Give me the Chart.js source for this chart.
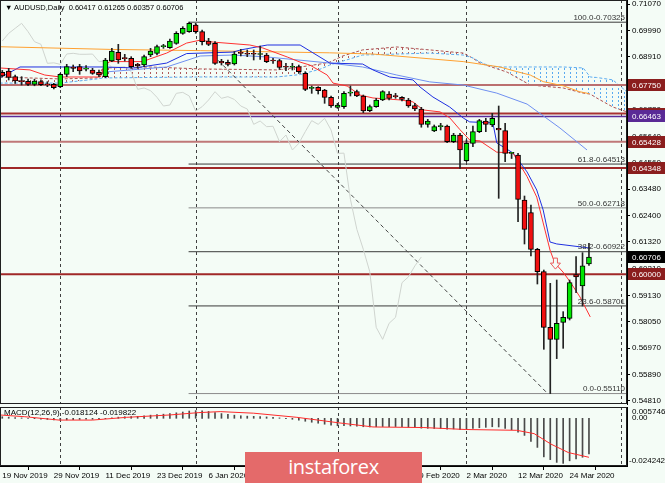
<!DOCTYPE html>
<html>
<head>
<meta charset="utf-8">
<title>AUDUSD Daily</title>
<script src="https://cdn.jsdelivr.net/npm/chart.js@4.4.1/dist/chart.umd.min.js"></script>
<style>
  html, body { margin: 0; padding: 0; background: #f4fcf6; }
  #wrap { position: relative; width: 665px; height: 483px; overflow: hidden; background: #f4fcf6; font-family: "Liberation Sans", Arial, sans-serif; }
  #main { position: absolute; left: 0; top: 0; }
  #macd { position: absolute; left: 0; top: 405px; }
  #title { position: absolute; left: 5px; top: 3px; font-size: 7.5px; line-height: 9px; color: #000; white-space: pre; }
  #mark { position: absolute; left: 245px; top: 452px; width: 177px; height: 34px; background: #e46a6a; color: #fff; font-family: "Open Sans", sans-serif; font-size: 20px; letter-spacing: -0.3px; text-align: center; line-height: 30px; }
</style>
</head>
<body>
<div id="wrap">
  <canvas id="main" width="665" height="405"></canvas>
  <canvas id="macd" width="665" height="78"></canvas>
  <div id="title"></div>
  <div id="mark">instaforex</div>
</div>
<script>
const FONT = '"Liberation Sans", Arial, sans-serif';

// one label every 8 daily bars, bar 0 = 19 Nov 2019
const dateLabels = ["19 Nov 2019", "29 Nov 2019", "11 Dec 2019", "23 Dec 2019", "6 Jan 2020", "16 Jan 2020",
  "28 Jan 2020", "7 Feb 2020", "19 Feb 2020", "2 Mar 2020", "12 Mar 2020", "24 Mar 2020"];
const labelStep = 8;

const opens = [0.68270, 0.68325, 0.68093, 0.67900, 0.67900, 0.67779, 0.67888, 0.67770, 0.67779, 0.67684,
  0.68189, 0.68480, 0.68503, 0.68400, 0.68366, 0.68270, 0.68093, 0.68735, 0.69090, 0.68844,
  0.68844, 0.68598, 0.68571, 0.68981, 0.69049, 0.69322, 0.69281, 0.69459, 0.69868, 0.69937,
  0.70210, 0.69937, 0.69554, 0.69459, 0.68720, 0.68680, 0.68612, 0.69077, 0.69050, 0.69040,
  0.69000, 0.68981, 0.68776, 0.68749, 0.68503, 0.68480, 0.68503, 0.68230, 0.67615, 0.67656,
  0.67547, 0.67247, 0.66837, 0.66864, 0.67420, 0.67478, 0.67301, 0.66700, 0.66864, 0.67137,
  0.67383, 0.67280, 0.67250, 0.67137, 0.66905, 0.66768, 0.66140, 0.65867, 0.66045, 0.66072,
  0.65430, 0.65703, 0.64652, 0.65362, 0.65840, 0.66277, 0.66113, 0.65977, 0.65881, 0.64952,
  0.64884, 0.63041, 0.62522, 0.61020, 0.60104, 0.57824, 0.57332, 0.58029, 0.58193, 0.59986,
  0.59521, 0.60417];
const highs = [0.68350, 0.68434, 0.68161, 0.68093, 0.67990, 0.67990, 0.67960, 0.67888, 0.67820, 0.68230,
  0.68598, 0.68571, 0.68598, 0.68544, 0.68434, 0.68366, 0.68844, 0.69254, 0.69418, 0.69008,
  0.68912, 0.68639, 0.68981, 0.69254, 0.69390, 0.69418, 0.69636, 0.69937, 0.70141, 0.70325,
  0.70278, 0.70000, 0.69663, 0.69527, 0.68803, 0.68776, 0.69117, 0.69213, 0.69186, 0.69186,
  0.69349, 0.69049, 0.68844, 0.68803, 0.68639, 0.68639, 0.68571, 0.68298, 0.67711, 0.67684,
  0.67574, 0.67301, 0.67001, 0.67478, 0.67711, 0.67547, 0.67342, 0.66932, 0.67206, 0.67520,
  0.67478, 0.67410, 0.67280, 0.67206, 0.67000, 0.66837, 0.66345, 0.66113, 0.66181, 0.66113,
  0.65772, 0.65772, 0.65498, 0.66072, 0.66345, 0.66386, 0.66591, 0.66891, 0.66181, 0.64980,
  0.64952, 0.63204, 0.62835, 0.61060, 0.60172, 0.59626, 0.59763, 0.58466, 0.59763, 0.60719,
  0.60883, 0.61265];
const lows = [0.68080, 0.67957, 0.67820, 0.67752, 0.67720, 0.67720, 0.67720, 0.67684, 0.67588, 0.67643,
  0.68093, 0.68298, 0.68189, 0.68325, 0.68189, 0.68093, 0.68052, 0.68708, 0.68639, 0.68735,
  0.68434, 0.68434, 0.68503, 0.68912, 0.68981, 0.69254, 0.69254, 0.69418, 0.69828, 0.69910,
  0.69868, 0.69390, 0.69363, 0.68598, 0.68571, 0.68530, 0.68571, 0.68940, 0.68913, 0.68776,
  0.68803, 0.68667, 0.68639, 0.68394, 0.68339, 0.68366, 0.68230, 0.67520, 0.67410, 0.67383,
  0.67001, 0.66837, 0.66796, 0.66796, 0.67301, 0.67274, 0.66618, 0.66659, 0.66837, 0.67110,
  0.67137, 0.67206, 0.67100, 0.66837, 0.66700, 0.66022, 0.66022, 0.65840, 0.65908, 0.65389,
  0.65389, 0.64338, 0.64611, 0.65225, 0.65799, 0.65840, 0.66045, 0.63109, 0.64611, 0.64740,
  0.62153, 0.61238, 0.60746, 0.59599, 0.56924, 0.55110, 0.56542, 0.56964, 0.58125, 0.59244,
  0.58698, 0.60357];
const closes = [0.68120, 0.68066, 0.67916, 0.67888, 0.67780, 0.67916, 0.67770, 0.67760, 0.67643, 0.68189,
  0.68503, 0.68434, 0.68325, 0.68420, 0.68230, 0.68161, 0.68776, 0.69145, 0.68776, 0.68830,
  0.68503, 0.68544, 0.68912, 0.69145, 0.69322, 0.69340, 0.69554, 0.69868, 0.70073, 0.70278,
  0.69937, 0.69527, 0.69418, 0.68639, 0.68660, 0.68598, 0.69022, 0.69050, 0.69010, 0.69010,
  0.69020, 0.68708, 0.68735, 0.68476, 0.68480, 0.68500, 0.68298, 0.67574, 0.67630, 0.67520,
  0.67247, 0.66891, 0.66932, 0.67410, 0.67450, 0.67301, 0.66687, 0.66864, 0.67137, 0.67478,
  0.67206, 0.67274, 0.67160, 0.66891, 0.66768, 0.66140, 0.66277, 0.66045, 0.66060, 0.65430,
  0.65703, 0.65089, 0.65362, 0.65840, 0.66291, 0.66140, 0.66386, 0.65908, 0.64952, 0.64960,
  0.63068, 0.61839, 0.61020, 0.60104, 0.57824, 0.57332, 0.57988, 0.58234, 0.59653, 0.59890,
  0.60341, 0.60706];

// indicator lines, as [bar index, price]
const tenkan = [[-0.4, 0.6845], [4.3, 0.6837], [6.6, 0.6816], [9, 0.6808], [15.2, 0.6808], [15.9, 0.6857],
  [16.7, 0.6871], [21.8, 0.6871], [22.9, 0.6882], [25.5, 0.6906], [28.6, 0.6947], [30.7, 0.6959],
  [32.7, 0.6951], [38.4, 0.6939], [40.4, 0.6927], [44.2, 0.6890], [46.2, 0.6869], [47.7, 0.6857],
  [50.4, 0.6816], [51.3, 0.6783], [53.5, 0.6771], [55.5, 0.6734], [57.5, 0.6722], [61.7, 0.6714],
  [63.7, 0.6706], [65.3, 0.6673], [67.9, 0.6665], [69.4, 0.6641], [71, 0.6592], [72.5, 0.6550],
  [74.1, 0.6546], [76.7, 0.6500], [79.2, 0.6497], [81.4, 0.6400], [82.9, 0.6316], [83.9, 0.6210],
  [84.96, 0.6099], [85.7, 0.6046], [86.97, 0.6009], [88.1, 0.5968], [89.6, 0.5907], [91.2, 0.5825]];
const kijun = [[-0.4, 0.6804], [2.75, 0.6849], [15.6, 0.6849], [20.6, 0.6845], [25.5, 0.6865], [28.6, 0.6904],
  [35.8, 0.6910], [37, 0.6919], [41.1, 0.6939], [46.2, 0.6939], [50.8, 0.6865], [55.9, 0.6861],
  [57.5, 0.6837], [60.1, 0.6808], [63.7, 0.6796], [64.8, 0.6767], [66.8, 0.6726], [69.4, 0.6685],
  [71.5, 0.6640], [72.5, 0.6624], [76.1, 0.6620], [76.7, 0.6538], [79.2, 0.6497], [81.4, 0.6419],
  [82.9, 0.6345], [83.9, 0.6263], [84.96, 0.6132], [86, 0.6124], [91.2, 0.6107]];
const slowBlue = [[16.2, 0.6829], [25.5, 0.6849], [30.7, 0.6894], [35.8, 0.6898], [41.1, 0.6890],
  [50.8, 0.6865], [55.9, 0.6849], [61.2, 0.6816], [66.3, 0.6788], [71.5, 0.6775], [76.7, 0.6742],
  [81.4, 0.6697], [86.5, 0.6599], [90.7, 0.6509]];
const orangeMa = [[-0.4, 0.6932], [16.7, 0.6921], [30.7, 0.6916], [50.8, 0.6907], [57.5, 0.6902],
  [71.5, 0.6871], [77.2, 0.6849], [79.8, 0.6830], [81.9, 0.6816], [83.9, 0.6789], [87, 0.6772],
  [89.5, 0.6748], [91, 0.6740]];
// cloud spans share the same bar positions
const cloudX = [-0.4, 9, 14.7, 15.6, 22.9, 30.7, 42.6, 46.2, 49.3, 50.8, 52.8, 55.9, 61.2, 66.3, 71.5,
  73, 74.1, 75.2, 76.7, 78.3, 81.9, 87, 90.1, 91.2, 92.2, 94.7, 96.9];
const spanA = [0.6783, 0.6783, 0.6800, 0.6804, 0.6806, 0.6808, 0.6808, 0.6818, 0.6840, 0.6857, 0.6873,
  0.6898, 0.6902, 0.6906, 0.6898, 0.6886, 0.6870, 0.6857, 0.6849, 0.6849, 0.6849, 0.6849, 0.6845,
  0.6808, 0.6806, 0.6796, 0.6747];
const spanB = [0.6808, 0.6800, 0.6804, 0.6845, 0.6849, 0.6841, 0.6837, 0.6849, 0.6861, 0.6869, 0.6894,
  0.6919, 0.6931, 0.6919, 0.6906, 0.6885, 0.6865, 0.6855, 0.6842, 0.6828, 0.6775, 0.6763, 0.6742,
  0.6738, 0.6722, 0.6685, 0.6665];
const chikouShift = 26; // lagging span = close plotted 26 bars back
const trendLine = [[33.5, 0.6876], [84.6, 0.5511]];

const fibStart = 28.9;
const fibNames = ["100.0", "61.8", "50.0", "38.2", "23.6", "0.0"];
const fibValues = [0.70325, 0.64513, 0.62718, 0.60922, 0.58701, 0.55110];
const redLevels = [0.67750, 0.66580, 0.65428, 0.64348, 0.60000];
const purpleLevel = 0.66463;
const separators = [9, 30, 52, 72, 96];
const arrowMark = [85.8, 0.6066];

const priceTicks = [0.71070, 0.69990, 0.68910, 0.67830, 0.66720, 0.65640, 0.64560, 0.63480, 0.62400,
  0.61320, 0.60210, 0.59130, 0.58050, 0.56970, 0.55890, 0.54810];

const macdHist = [0.0008, 0.0006, 0.0004, 0.0002, 0.0000, -0.0002, -0.0004, -0.0006, -0.0008,
  -0.0009, -0.0008, -0.0007, -0.0006, -0.0005, -0.0005, -0.0005, -0.0002,
  0.0003, 0.0006, 0.0008, 0.0009, 0.0010, 0.0013, 0.0016, 0.0019, 0.0021, 0.0024, 0.0028, 0.0032, 0.0037,
  0.0039, 0.0038, 0.0035, 0.0029, 0.0024, 0.0020, 0.0016, 0.0013, 0.0011, 0.0010, 0.0009, 0.0007, 0.0005, 0.0002,
  -0.0002, -0.0005, -0.0009, -0.0015, -0.0020, -0.0025, -0.0030, -0.0035, -0.0038, -0.0038, -0.0039,
  -0.0040, -0.0043, -0.0044, -0.0043, -0.0042, -0.0042, -0.0042, -0.0043, -0.0045, -0.0046, -0.0050,
  -0.0051, -0.0052, -0.0052, -0.0055, -0.0054, -0.0058, -0.0056, -0.0052, -0.0048, -0.0046, -0.0043,
  -0.0044, -0.0052, -0.0058, -0.0070, -0.0087, -0.0118, -0.0148, -0.0196, -0.0210, -0.0224, -0.0229,
  -0.0216, -0.0206, -0.0198, -0.018124];
const macdSignal = [[-0.4, 0.0017], [3.5, 0.0008], [8.8, -0.0009], [14, -0.0009], [19.3, 0.0005],
  [26, 0.0017], [30.5, 0.0029], [33.8, 0.0034], [39, 0.0026], [45.7, 0.0005], [52.2, -0.0023],
  [57.5, -0.0044], [65.4, -0.0047], [71.9, -0.0057], [79.8, -0.0061], [82.5, -0.0078], [85.1, -0.0131],
  [87.8, -0.0174], [91, -0.019822]];
const macdMax = 0.005746, macdMin = -0.024242;

const X_MIN = -0.35, X_MAX = 96.9;
const Y_MIN = 0.54683, Y_MAX = 0.71234;

const last = closes.length - 1;
document.getElementById('title').textContent = '\u25BC AUDUSD,Daily  ' +
  [opens[last], highs[last], lows[last], closes[last]].map(v => v.toFixed(5)).join(' ');

const pts = arr => arr.map(([x, y]) => ({ x, y }));
const flat = (x0, x1, v) => [{ x: x0, y: v }, { x: x1, y: v }];

function hatch(color) {
  const c = document.createElement('canvas');
  c.width = 6; c.height = 4;
  const g = c.getContext('2d');
  g.fillStyle = color;
  g.fillRect(0, 0, 1, 2);
  return g.createPattern(c, 'repeat');
}

function lineSet(data, color, order, extra) {
  return Object.assign({ type: 'line', data, borderColor: color, borderWidth: 1, pointRadius: 0,
    fill: false, tension: 0, order }, extra || {});
}

const datasets = [];
datasets.push({
  type: 'bar', order: 0,
  data: opens.map((o, i) => ({ x: i, y: [o, closes[i]] })),
  backgroundColor: ctx => closes[ctx.dataIndex] >= opens[ctx.dataIndex] ? '#00e600' : '#f01010',
  borderColor: '#000', borderWidth: 1, borderSkipped: false, barThickness: 5, minBarLength: 1
});
datasets.push({
  type: 'bar', order: 1,
  data: lows.map((l, i) => ({ x: i, y: [l, highs[i]] })),
  backgroundColor: '#222', barThickness: 1
});
datasets.push(lineSet(pts(tenkan), '#ff3030', 2));
datasets.push(lineSet(pts(kijun), '#1f2fe0', 3));
datasets.push(lineSet(pts(slowBlue), '#6f8ff0', 4));
datasets.push(lineSet(pts(orangeMa), '#ffa030', 5));
datasets.push(lineSet(closes.slice(chikouShift).map((c, k) => ({ x: k, y: c })), '#cfd4cf', 6));
datasets.push(lineSet(pts(trendLine), '#444', 7, { borderDash: [4, 3] }));
fibValues.forEach((v, k) => {
  const c = (k === 2 || k === 5) ? '#8a8a8a' : '#3a3a3a';
  datasets.push(lineSet(flat(fibStart, X_MAX, v), c, 8));
});
const redColors = ['#bb6f6f', '#a83232', '#c07878', '#a02828', '#a02828'];
redLevels.forEach((v, k) => datasets.push(lineSet(flat(X_MIN, X_MAX, v), redColors[k], 9, { borderWidth: 2 })));
datasets.push(lineSet(flat(X_MIN, X_MAX, purpleLevel), '#5b2c9a', 9, { borderWidth: 1.5 }));
datasets.push(lineSet(cloudX.map((x, k) => ({ x, y: spanA[k] })), '#5aaaf0', 10, {
  borderDash: [3, 2], fill: { target: '+1', above: hatch('#5aaaf0'), below: hatch('#b05a5a') }
}));
datasets.push(lineSet(cloudX.map((x, k) => ({ x, y: spanB[k] })), '#b05050', 11, { borderDash: [3, 2] }));

function drawSeparators(chart) {
  const { ctx, chartArea: a, scales: { x } } = chart;
  ctx.save();
  ctx.strokeStyle = '#404040';
  ctx.lineWidth = 1;
  ctx.setLineDash([3, 3]);
  separators.forEach(i => {
    const px = Math.round(x.getPixelForValue(i)) + 0.5;
    ctx.beginPath(); ctx.moveTo(px, a.top); ctx.lineTo(px, a.bottom); ctx.stroke();
  });
  ctx.restore();
}

function drawFrame(chart) {
  const { ctx, chartArea: a } = chart;
  ctx.save();
  ctx.strokeStyle = '#202020';
  ctx.lineWidth = 1;
  ctx.strokeRect(a.left + 0.5, a.top + 0.5, a.right - a.left - 1, a.bottom - a.top - 1);
  ctx.restore();
}

const mainOverlay = {
  id: 'mainOverlay',
  beforeDatasetsDraw(chart) { drawSeparators(chart); },
  afterDatasetsDraw(chart) {
    const { ctx, chartArea: a, scales: { x, y } } = chart;
    drawFrame(chart);
    ctx.save();
    ctx.font = '8px ' + FONT;
    ctx.fillStyle = '#333';
    ctx.textAlign = 'right';
    ctx.textBaseline = 'bottom';
    fibValues.forEach((v, k) => {
      ctx.fillText(fibNames[k] + '-' + v.toFixed(5), a.right - 2, y.getPixelForValue(v) - 0.5);
    });
    // hollow down arrow object
    const ax = x.getPixelForValue(arrowMark[0]);
    const ay = y.getPixelForValue(arrowMark[1]);
    ctx.beginPath();
    ctx.moveTo(ax - 2, ay); ctx.lineTo(ax + 2, ay); ctx.lineTo(ax + 2, ay + 5);
    ctx.lineTo(ax + 5, ay + 5); ctx.lineTo(ax, ay + 11); ctx.lineTo(ax - 5, ay + 5);
    ctx.lineTo(ax - 2, ay + 5); ctx.closePath();
    ctx.fillStyle = '#f4fcf6';
    ctx.fill();
    ctx.strokeStyle = '#e85a5a';
    ctx.lineWidth = 1;
    ctx.stroke();
    ctx.restore();
  },
  afterDraw(chart) {
    const { ctx, chartArea: a, scales: { y } } = chart;
    const box = (v, bg) => {
      const py = Math.round(y.getPixelForValue(v));
      ctx.fillStyle = bg;
      ctx.fillRect(a.right + 1, py - 6, 665 - a.right - 1, 12);
      ctx.fillStyle = '#fff';
      ctx.fillText(v.toFixed(5), a.right + 5, py + 0.5);
    };
    ctx.save();
    ctx.font = '8px ' + FONT;
    ctx.textAlign = 'left';
    ctx.textBaseline = 'middle';
    redLevels.forEach(v => box(v, '#8b1e1e'));
    box(purpleLevel, '#5a2a96');
    box(closes[last], '#000');
    ctx.restore();
  }
};

new Chart(document.getElementById('main'), {
  type: 'bar',
  data: { datasets },
  options: {
    responsive: false,
    animation: false,
    events: [],
    layout: { padding: { left: 0, right: 0, top: 0, bottom: 1 } },
    plugins: { legend: { display: false }, tooltip: { enabled: false } },
    datasets: { bar: { grouped: false } },
    scales: {
      x: { type: 'linear', min: X_MIN, max: X_MAX, offset: false, display: false },
      y: {
        position: 'right', min: Y_MIN, max: Y_MAX,
        afterBuildTicks: s => { s.ticks = priceTicks.map(v => ({ value: v })); },
        afterFit: s => { s.width = 38; s.paddingTop = 0; s.paddingBottom = 0; },
        ticks: { callback: v => v.toFixed(5), font: { size: 8, family: FONT }, color: '#000', padding: 2, autoSkip: false },
        grid: { drawOnChartArea: false, drawTicks: true, tickLength: 3, color: '#000' },
        border: { color: '#000' }
      }
    }
  },
  plugins: [mainOverlay]
});

const macdOverlay = {
  id: 'macdOverlay',
  beforeDatasetsDraw(chart) { drawSeparators(chart); },
  afterDatasetsDraw(chart) { drawFrame(chart); },
  afterDraw(chart) {
    const { ctx, chartArea: a, scales: { y } } = chart;
    ctx.save();
    ctx.font = '8px ' + FONT;
    ctx.fillStyle = '#000';
    ctx.textBaseline = 'middle';
    ctx.textAlign = 'left';
    ctx.fillText('MACD(12,26,9) ' + macdHist[last].toFixed(6) + ' ' +
      macdSignal[macdSignal.length - 1][1].toFixed(6), a.left + 4, a.top + 6);
    ctx.fillText(macdMax.toFixed(6), a.right + 5, a.top + 5);
    ctx.fillText('0.00', a.right + 5, y.getPixelForValue(0) - 1);
    ctx.fillText(macdMin.toFixed(6), a.right + 2, a.bottom - 5);
    ctx.restore();
  }
};

new Chart(document.getElementById('macd'), {
  type: 'bar',
  data: {
    datasets: [
      lineSet(pts(macdSignal), '#ff2a2a', 0),
      { type: 'bar', order: 1, data: macdHist.map((v, i) => ({ x: i, y: v })), backgroundColor: '#4a4a4a', barThickness: 1 }
    ]
  },
  options: {
    responsive: false,
    animation: false,
    events: [],
    layout: { padding: { left: 0, right: 0, top: 2, bottom: 0 } },
    plugins: { legend: { display: false }, tooltip: { enabled: false } },
    scales: {
      x: {
        type: 'linear', min: X_MIN, max: X_MAX, offset: false,
        afterBuildTicks: s => { s.ticks = dateLabels.map((d, k) => ({ value: k * labelStep })); },
        afterFit: s => { s.height = 17; s.paddingLeft = 0; s.paddingRight = 0; },
        ticks: { autoSkip: false, maxRotation: 0, minRotation: 0, align: 'start', padding: 1,
          font: { size: 8, family: FONT }, color: '#000', callback: (v, i) => dateLabels[i] },
        grid: { drawOnChartArea: false, drawTicks: true, tickLength: 4, color: '#000' },
        border: { color: '#000' }
      },
      y: {
        position: 'right', min: macdMin, max: macdMax,
        afterFit: s => { s.width = 38; s.paddingTop = 0; s.paddingBottom = 0; },
        ticks: { display: false },
        grid: { display: false },
        border: { color: '#000' }
      }
    }
  },
  plugins: [macdOverlay]
});
</script>
</body>
</html>
